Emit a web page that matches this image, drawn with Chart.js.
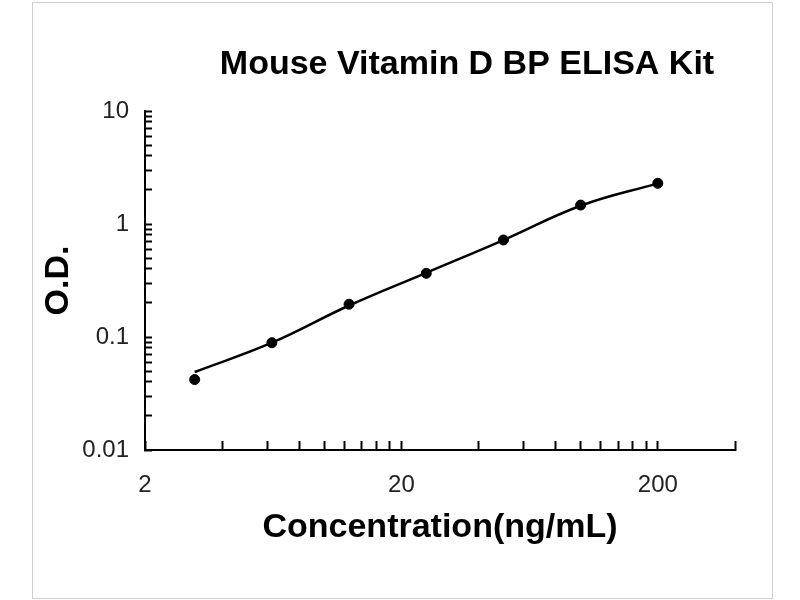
<!DOCTYPE html>
<html>
<head>
<meta charset="utf-8">
<script src="https://cdn.jsdelivr.net/npm/chart.js@4.4.1/dist/chart.umd.min.js"></script>
<style>
  body { margin: 0; background: #fff; }
  #wrap { position: relative; width: 800px; height: 600px; }
  #frame { position: absolute; left: 32px; top: 2px; width: 739px; height: 595px; border: 1px solid #cfcfcf; }
  canvas { position: absolute; left: 0; top: 0; }
</style>
</head>
<body>
<div id="wrap">
  <div id="frame"></div>
  <canvas id="elisaChart" width="800" height="600"></canvas>
</div>
<script>
const chartTitle = 'Mouse Vitamin D BP ELISA Kit';
const xTitle = 'Concentration(ng/mL)';
const yTitle = 'O.D.';

// standards (ng/mL) and O.D.
const concentrations = [3.125, 6.25, 12.5, 25, 50, 100, 200];
const odMeasured = [0.042, 0.089, 0.195, 0.366, 0.722, 1.47, 2.29];
// fitted curve, read at the same concentrations
const odFitted = [0.049, 0.089, 0.19, 0.37, 0.72, 1.45, 2.29];

const xTicks = [2, 4, 6, 8, 10, 12, 14, 16, 18, 20, 40, 60, 80, 100, 120, 140, 160, 180, 200, 400];
const xTickLabels = ['2', '20', '200'];
const yTicks = [0.01, 0.02, 0.03, 0.04, 0.05, 0.06, 0.07, 0.08, 0.09,
                0.1, 0.2, 0.3, 0.4, 0.5, 0.6, 0.7, 0.8, 0.9,
                1, 2, 3, 4, 5, 6, 7, 8, 9, 10];
const yTickLabels = ['0.01', '0.1', '1', '10'];

const titleFont = { family: '"Liberation Sans", Arial, sans-serif', size: 34, weight: 'bold' };
const tickFont = { family: '"Liberation Sans", Arial, sans-serif', size: 24 };

// main title sits a bit right of the plot centre, like the original
const kitTitle = {
    id: 'kitTitle',
    afterDraw(chart) {
        const { ctx, chartArea } = chart;
        ctx.save();
        ctx.font = 'bold 34px "Liberation Sans", Arial, sans-serif';
        ctx.fillStyle = '#000';
        ctx.textAlign = 'center';
        ctx.textBaseline = 'middle';
        ctx.fillText(chartTitle, (chartArea.left + chartArea.right) / 2 + 27, chartArea.top - 46);
        ctx.restore();
    }
};

const ctx = document.getElementById('elisaChart').getContext('2d');
new Chart(ctx, {
    type: 'line',
    data: {
        datasets: [
            {
                label: 'Fit',
                data: concentrations.map((c, i) => ({ x: c, y: odFitted[i] })),
                borderColor: '#000',
                borderWidth: 2.5,
                pointRadius: 0,
                fill: false,
                tension: 0.4
            },
            {
                label: 'Standards',
                data: concentrations.map((c, i) => ({ x: c, y: odMeasured[i] })),
                showLine: false,
                pointRadius: 5,
                pointBackgroundColor: '#000',
                pointBorderColor: '#000'
            }
        ]
    },
    options: {
        responsive: false,
        animation: false,
        layout: { padding: { left: 30, right: 65, top: 111, bottom: 40 } },
        plugins: {
            legend: { display: false },
            tooltip: { enabled: false }
        },
        scales: {
            x: {
                type: 'logarithmic',
                min: 2,
                max: 400,
                afterBuildTicks: scale => { scale.ticks = xTicks.map(v => ({ value: v })); },
                afterFit: scale => { scale.height = 110; },
                ticks: {
                    autoSkip: false,
                    maxRotation: 0,
                    padding: 30,
                    color: '#222',
                    font: tickFont,
                    callback: value => xTickLabels.includes(String(value)) ? String(value) : ''
                },
                grid: {
                    drawOnChartArea: false,
                    tickLength: -9,
                    tickWidth: 2,
                    tickColor: '#000'
                },
                border: { display: true, color: '#000', width: 2 },
                title: {
                    display: true,
                    text: xTitle,
                    color: '#000',
                    font: titleFont,
                    padding: { top: 0, bottom: 12 }
                }
            },
            y: {
                type: 'logarithmic',
                min: 0.01,
                max: 10,
                afterBuildTicks: scale => { scale.ticks = yTicks.map(v => ({ value: v })); },
                afterFit: scale => { scale.width = 115; },
                ticks: {
                    autoSkip: false,
                    padding: 23,
                    color: '#222',
                    font: tickFont,
                    callback: value => yTickLabels.includes(String(value)) ? String(value) : ''
                },
                grid: {
                    drawOnChartArea: false,
                    tickLength: -7,
                    tickWidth: 2,
                    tickColor: '#000'
                },
                border: { display: true, color: '#000', width: 2 },
                title: {
                    display: true,
                    text: yTitle,
                    color: '#000',
                    font: titleFont,
                    padding: { top: 8, bottom: 0 }
                }
            }
        }
    },
    plugins: [kitTitle]
});
</script>
</body>
</html>
